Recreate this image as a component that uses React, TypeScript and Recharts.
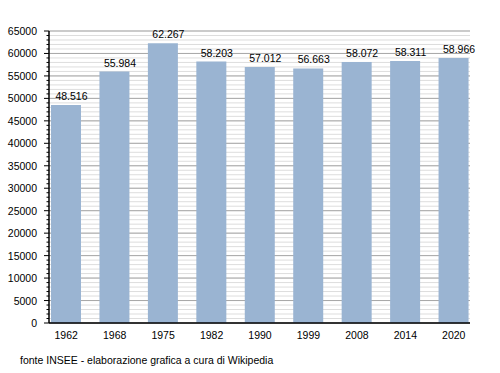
import React from "react";
import {
    BarChart,
    Bar,
    XAxis,
    YAxis,
    CartesianGrid,
    LabelList
} from "recharts";

const years = ["1962", "1968", "1975", "1982", "1990", "1999", "2008", "2014", "2020"];
const population = [48516, 55984, 62267, 58203, 57012, 56663, 58072, 58311, 58966];
const yTicks = Array.from({ length: 66 }, (_, i) => i * 1000);
const majorTicks = yTicks.filter((v) => v % 5000 === 0);

const data = years.map((year, i) => ({ year, value: population[i] }));

const font = "'Liberation Sans', Arial, sans-serif";

const fmt = (v: number) => String(v).replace(/\B(?=(\d{3})+(?!\d))/g, ".");

function YTick(props: any) {
    const { x, y, payload } = props;
    const major = payload.value % 5000 === 0;
    return (
        <g>
            <line x1={x - (major ? 5 : 2.5)} x2={x} y1={y} y2={y} stroke="#000" strokeWidth={1} />
            {major && (
                <text x={x - 12} y={y} dy={4} textAnchor="end" fontSize={10.5} fontFamily={font} fill="#000">
                    {payload.value}
                </text>
            )}
        </g>
    );
}

// value labels sit a bit right of the bar centre, like the original
function ValueLabel(props: any) {
    const { x, y, width, value } = props;
    return (
        <text x={x + width / 2 + 5.5} y={y - 5} textAnchor="middle" fontSize={10.5} fontFamily={font} fill="#000">
            {fmt(Number(value))}
        </text>
    );
}

export default function App() {
    return (
        <div style={{ position: "absolute", left: 0, top: 0, width: 500, height: 373, background: "#fff" }}>
            <BarChart
                width={500}
                height={373}
                data={data}
                margin={{ top: 31, right: 30, left: 0, bottom: 30 }}
                barSize={30}
            >
                <CartesianGrid vertical={false} horizontalValues={yTicks} stroke="#dddddd" strokeWidth={1} />
                <CartesianGrid vertical={false} horizontalValues={majorTicks} stroke="#a8a8a8" strokeWidth={1} />
                <XAxis
                    dataKey="year"
                    height={20}
                    padding={{ left: -7, right: -8 }}
                    tickLine={false}
                    axisLine={{ stroke: "#000", strokeWidth: 1.5 }}
                    tick={{ fontSize: 10.5, fontFamily: font, fill: "#000" }}
                    tickMargin={3}
                />
                <YAxis
                    width={49}
                    domain={[0, 65000]}
                    ticks={yTicks}
                    interval={0}
                    tickSize={0}
                    tickMargin={0}
                    axisLine={{ stroke: "#000", strokeWidth: 1.5 }}
                    tick={<YTick />}
                />
                <Bar dataKey="value" fill="#9ab4d2" isAnimationActive={false}>
                    <LabelList dataKey="value" content={<ValueLabel />} />
                </Bar>
            </BarChart>
            <div style={{ position: "absolute", left: 20, top: 354, fontSize: 10.5, fontFamily: font, color: "#000", whiteSpace: "nowrap" }}>
                fonte INSEE - elaborazione grafica a cura di Wikipedia
            </div>
        </div>
    );
}
